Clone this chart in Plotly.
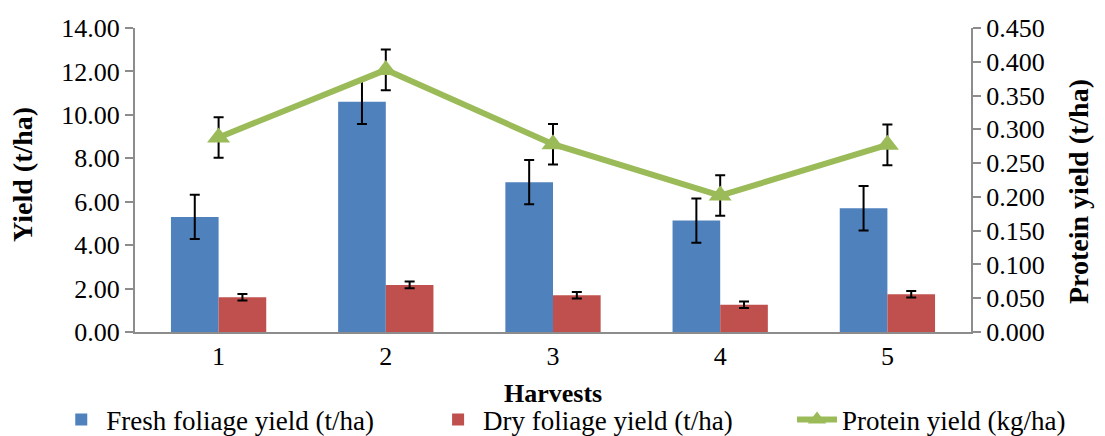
import plotly.graph_objects as go

harvests = ["1", "2", "3", "4", "5"]
fresh = [5.30, 10.60, 6.90, 5.13, 5.70]
fresh_err = [1.02, 1.02, 1.02, 1.02, 1.02]
dry = [1.60, 2.17, 1.69, 1.25, 1.74]
dry_err = [0.15, 0.15, 0.15, 0.15, 0.15]
protein = [0.288, 0.388, 0.278, 0.202, 0.277]
protein_err = [0.030, 0.030, 0.030, 0.030, 0.030]

left_ticks = [0, 2, 4, 6, 8, 10, 12, 14]
right_ticks = [0, 0.05, 0.1, 0.15, 0.2, 0.25, 0.3, 0.35, 0.4, 0.45]

FONT = "Liberation Serif"
err_style = dict(type="data", color="black", thickness=2, width=5)

fig = go.Figure()
fig.add_trace(go.Bar(
    x=harvests, y=fresh, name="Fresh foliage yield (t/ha)", legend="legend",
    marker=dict(color="#4F81BD", line=dict(width=0)),
    error_y=dict(array=fresh_err, **err_style),
))
fig.add_trace(go.Bar(
    x=harvests, y=dry, name="Dry foliage yield (t/ha)", legend="legend2",
    marker=dict(color="#C0504D", line=dict(width=0)),
    error_y=dict(array=dry_err, **err_style),
))
fig.add_trace(go.Scatter(
    x=harvests, y=protein, name="Protein yield (kg/ha)", yaxis="y2", legend="legend3",
    mode="lines+markers",
    line=dict(color="#9BBB59", width=6),
    marker=dict(symbol="triangle-up", size=20, color="#9BBB59"),
    error_y=dict(array=protein_err, **err_style),
))

leg_common = dict(orientation="h", xref="container", xanchor="left",
                  yref="container", y=0.0374, yanchor="middle",
                  font=dict(family=FONT, size=27), itemwidth=40,
                  bgcolor="rgba(0,0,0,0)")

fig.update_layout(
    width=1097, height=428,
    margin=dict(l=127, r=134, t=20, b=104, autoexpand=False),
    paper_bgcolor="white", plot_bgcolor="white",
    font=dict(family=FONT, size=26, color="black"),
    barmode="group", bargap=0.43, bargroupgap=0,
    showlegend=True,
    legend=dict(x=0.0440, **leg_common),
    legend2=dict(x=0.3875, **leg_common),
    legend3=dict(x=0.7147, **leg_common),
    xaxis=dict(
        type="category", showline=True, linecolor="#8c8c8c", linewidth=2,
        ticks="", showgrid=False, tickfont=dict(size=26), automargin=False,
    ),
    yaxis=dict(
        range=[0, 14], tickvals=left_ticks, tickformat=".2f",
        showline=True, linecolor="#8c8c8c", linewidth=2,
        ticks="outside", ticklen=8, tickcolor="#8c8c8c", tickwidth=2,
        showgrid=False, zeroline=False, tickfont=dict(size=26), automargin=False,
    ),
    yaxis2=dict(
        range=[0, 0.45], tickvals=right_ticks, tickformat=".3f",
        overlaying="y", side="right",
        showline=True, linecolor="#8c8c8c", linewidth=2,
        ticks="outside", ticklen=8, tickcolor="#8c8c8c", tickwidth=2,
        showgrid=False, zeroline=False, tickfont=dict(size=26), automargin=False,
    ),
    annotations=[
        dict(text="<b>Harvests</b>", xref="paper", yref="paper", x=0.5, y=-0.2007,
             xanchor="center", yanchor="middle", showarrow=False,
             font=dict(family=FONT, size=26, color="black")),
        dict(text="<b>Yield (t/ha)</b>", xref="paper", yref="paper", x=-0.134, y=0.520,
             xanchor="center", yanchor="middle", showarrow=False, textangle=-90,
             font=dict(family=FONT, size=28, color="black")),
        dict(text="<b>Protein yield (t/ha)</b>", xref="paper", yref="paper", x=1.128, y=0.4605,
             xanchor="center", yanchor="middle", showarrow=False, textangle=-90,
             font=dict(family=FONT, size=28, color="black")),
    ],
)

fig.write_html("out.html")
